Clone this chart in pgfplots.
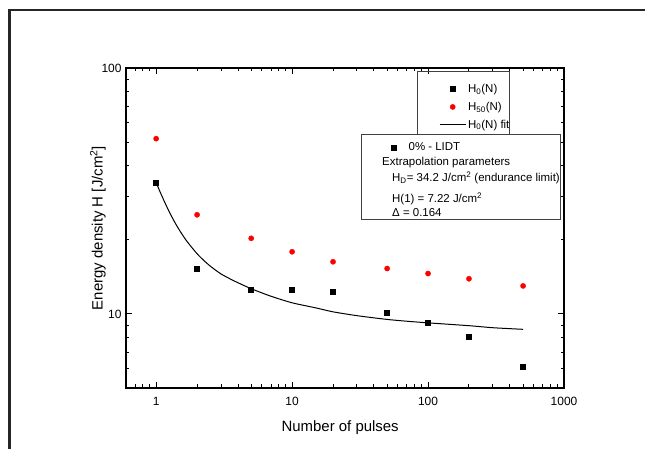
\documentclass[border=0pt]{standalone}
\usepackage{fontspec}
\setmainfont{Liberation Sans}
\usepackage{pgfplots}
\pgfplotsset{compat=1.18}

\pgfplotstableread{
N H
1 34.2
2 15.3
5 12.5
10 12.6
20 12.3
50 10.1
100 9.22
200 8.11
500 6.12
}\hzero
\pgfplotstableread{
N H
1 51.6
2 25.3
5 20.3
10 17.9
20 16.3
50 15.3
100 14.6
200 13.9
500 13.0
}\hfifty
\pgfplotstableread{
N H
1 34.2
1.057 31.8
1.151 28.6
1.253 25.9
1.364 23.7
1.484 21.9
1.644 20.1
1.82 18.7
2.014 17.5
2.268 16.4
2.555 15.5
3.026 14.5
3.772 13.6
5.03 12.65
7 11.8
10 11.1
15 10.58
20 10.2
30 9.84
50 9.5
70 9.34
100 9.2
200 8.96
300 8.79
500 8.66
}\hfit

\pgfplotsset{
  sqimg/.style={legend image code/.code={\draw[mark repeat=2,mark phase=2,##1] plot coordinates {(0bp,0bp) (13bp,0bp) (26bp,0bp)};}},
  smallimg/.style={legend image code/.code={\draw[mark repeat=2,mark phase=2,##1] plot coordinates {(0bp,0bp) (6bp,0bp) (12bp,0bp)};}},
}

\begin{document}
\begin{tikzpicture}[x=1bp,y=1bp]
\useasboundingbox (0,0) rectangle (645,449);
\draw[line width=2.5bp, black!85] (9.5,0) -- (9.5,439) -- (645,439);

\begin{axis}[
  at={(126bp,61bp)}, anchor=south west,
  width=438bp, height=320bp, scale only axis,
  xmode=log, ymode=log,
  xmin=0.6, xmax=1000, ymin=5, ymax=100,
  xtick={1,10,100,1000}, xticklabels={1,10,100,1000},
  ytick={10,100}, yticklabels={10,100},
  minor xtick={0.6,0.7,0.8,0.9,2,3,4,5,6,7,8,9,20,30,40,50,60,70,80,90,200,300,400,500,600,700,800,900},
  minor ytick={6,7,8,9,20,30,40,50,60,70,80,90},
  tick align=inside,
  major tick length=6bp, minor tick length=3.5bp,
  axis line style={line width=1.2bp},
  every tick/.style={black, line width=1bp},
  tick label style={font=\fontsize{12}{14}\selectfont},
  xticklabel style={yshift=-6bp},
  yticklabel style={xshift=-1bp},
  xlabel={Number of pulses},
  ylabel={Energy density H [J/cm\textsuperscript{2}]},
  label style={font=\fontsize{15}{17}\selectfont},
  xlabel style={at={(axis description cs:0.489,-0.1225)}, anchor=center},
  ylabel style={at={(axis description cs:-0.064,0.5)}, anchor=center},
  legend style={at={(axis description cs:0.7146,0.956)}, anchor=north west,
    draw=none, fill=none, font=\fontsize{11.5}{13}\selectfont,
    row sep=4bp, inner sep=0pt},
  legend cell align=left,
]
\addplot[only marks, mark=square*, mark size=2.5bp, black, sqimg] table {\hzero};
\addlegendentry{H\textsubscript{0}(N)}
\addplot[only marks, mark=*, mark size=2.6bp, red, sqimg] table {\hfifty};
\addlegendentry{H\textsubscript{50}(N)}
\addplot[black, line width=1bp, smooth, tension=0.4, sqimg] table {\hfit};
\addlegendentry{H\textsubscript{0}(N) fit}
\end{axis}

\begin{axis}[
  at={(126bp,61bp)}, anchor=south west,
  width=438bp, height=320bp, scale only axis,
  xmode=log, ymode=log,
  xmin=0.6, xmax=1000, ymin=5, ymax=100,
  hide axis,
  legend style={at={(axis description cs:0.606,0.751)}, anchor=west,
    draw=none, fill=none, font=\fontsize{11.5}{13}\selectfont, inner sep=0pt,
    /tikz/every odd column/.append style={column sep=10bp}},
]
\addplot[only marks, mark=square*, mark size=2.5bp, black, smallimg] table {\hzero};
\addlegendentry{0\% - LIDT}
\end{axis}

\draw[line width=0.9bp, black!75] (417,378) rectangle (509,315);
\draw[line width=0.9bp, black!75] (361,314.3) rectangle (560.7,229.7);
\begin{scope}[every node/.style={anchor=base west, inner sep=0pt, font=\fontsize{11.5}{13}\selectfont}]
\node at (382,283) {Extrapolation parameters};
\node at (392,267) {H\textsubscript{D}= 34.2 J/cm\textsuperscript{2} (endurance limit)};
\node at (392,246) {H(1) = 7.22 J/cm\textsuperscript{2}};
\node at (392,232) {Δ = 0.164};
\end{scope}
\end{tikzpicture}
\end{document}
